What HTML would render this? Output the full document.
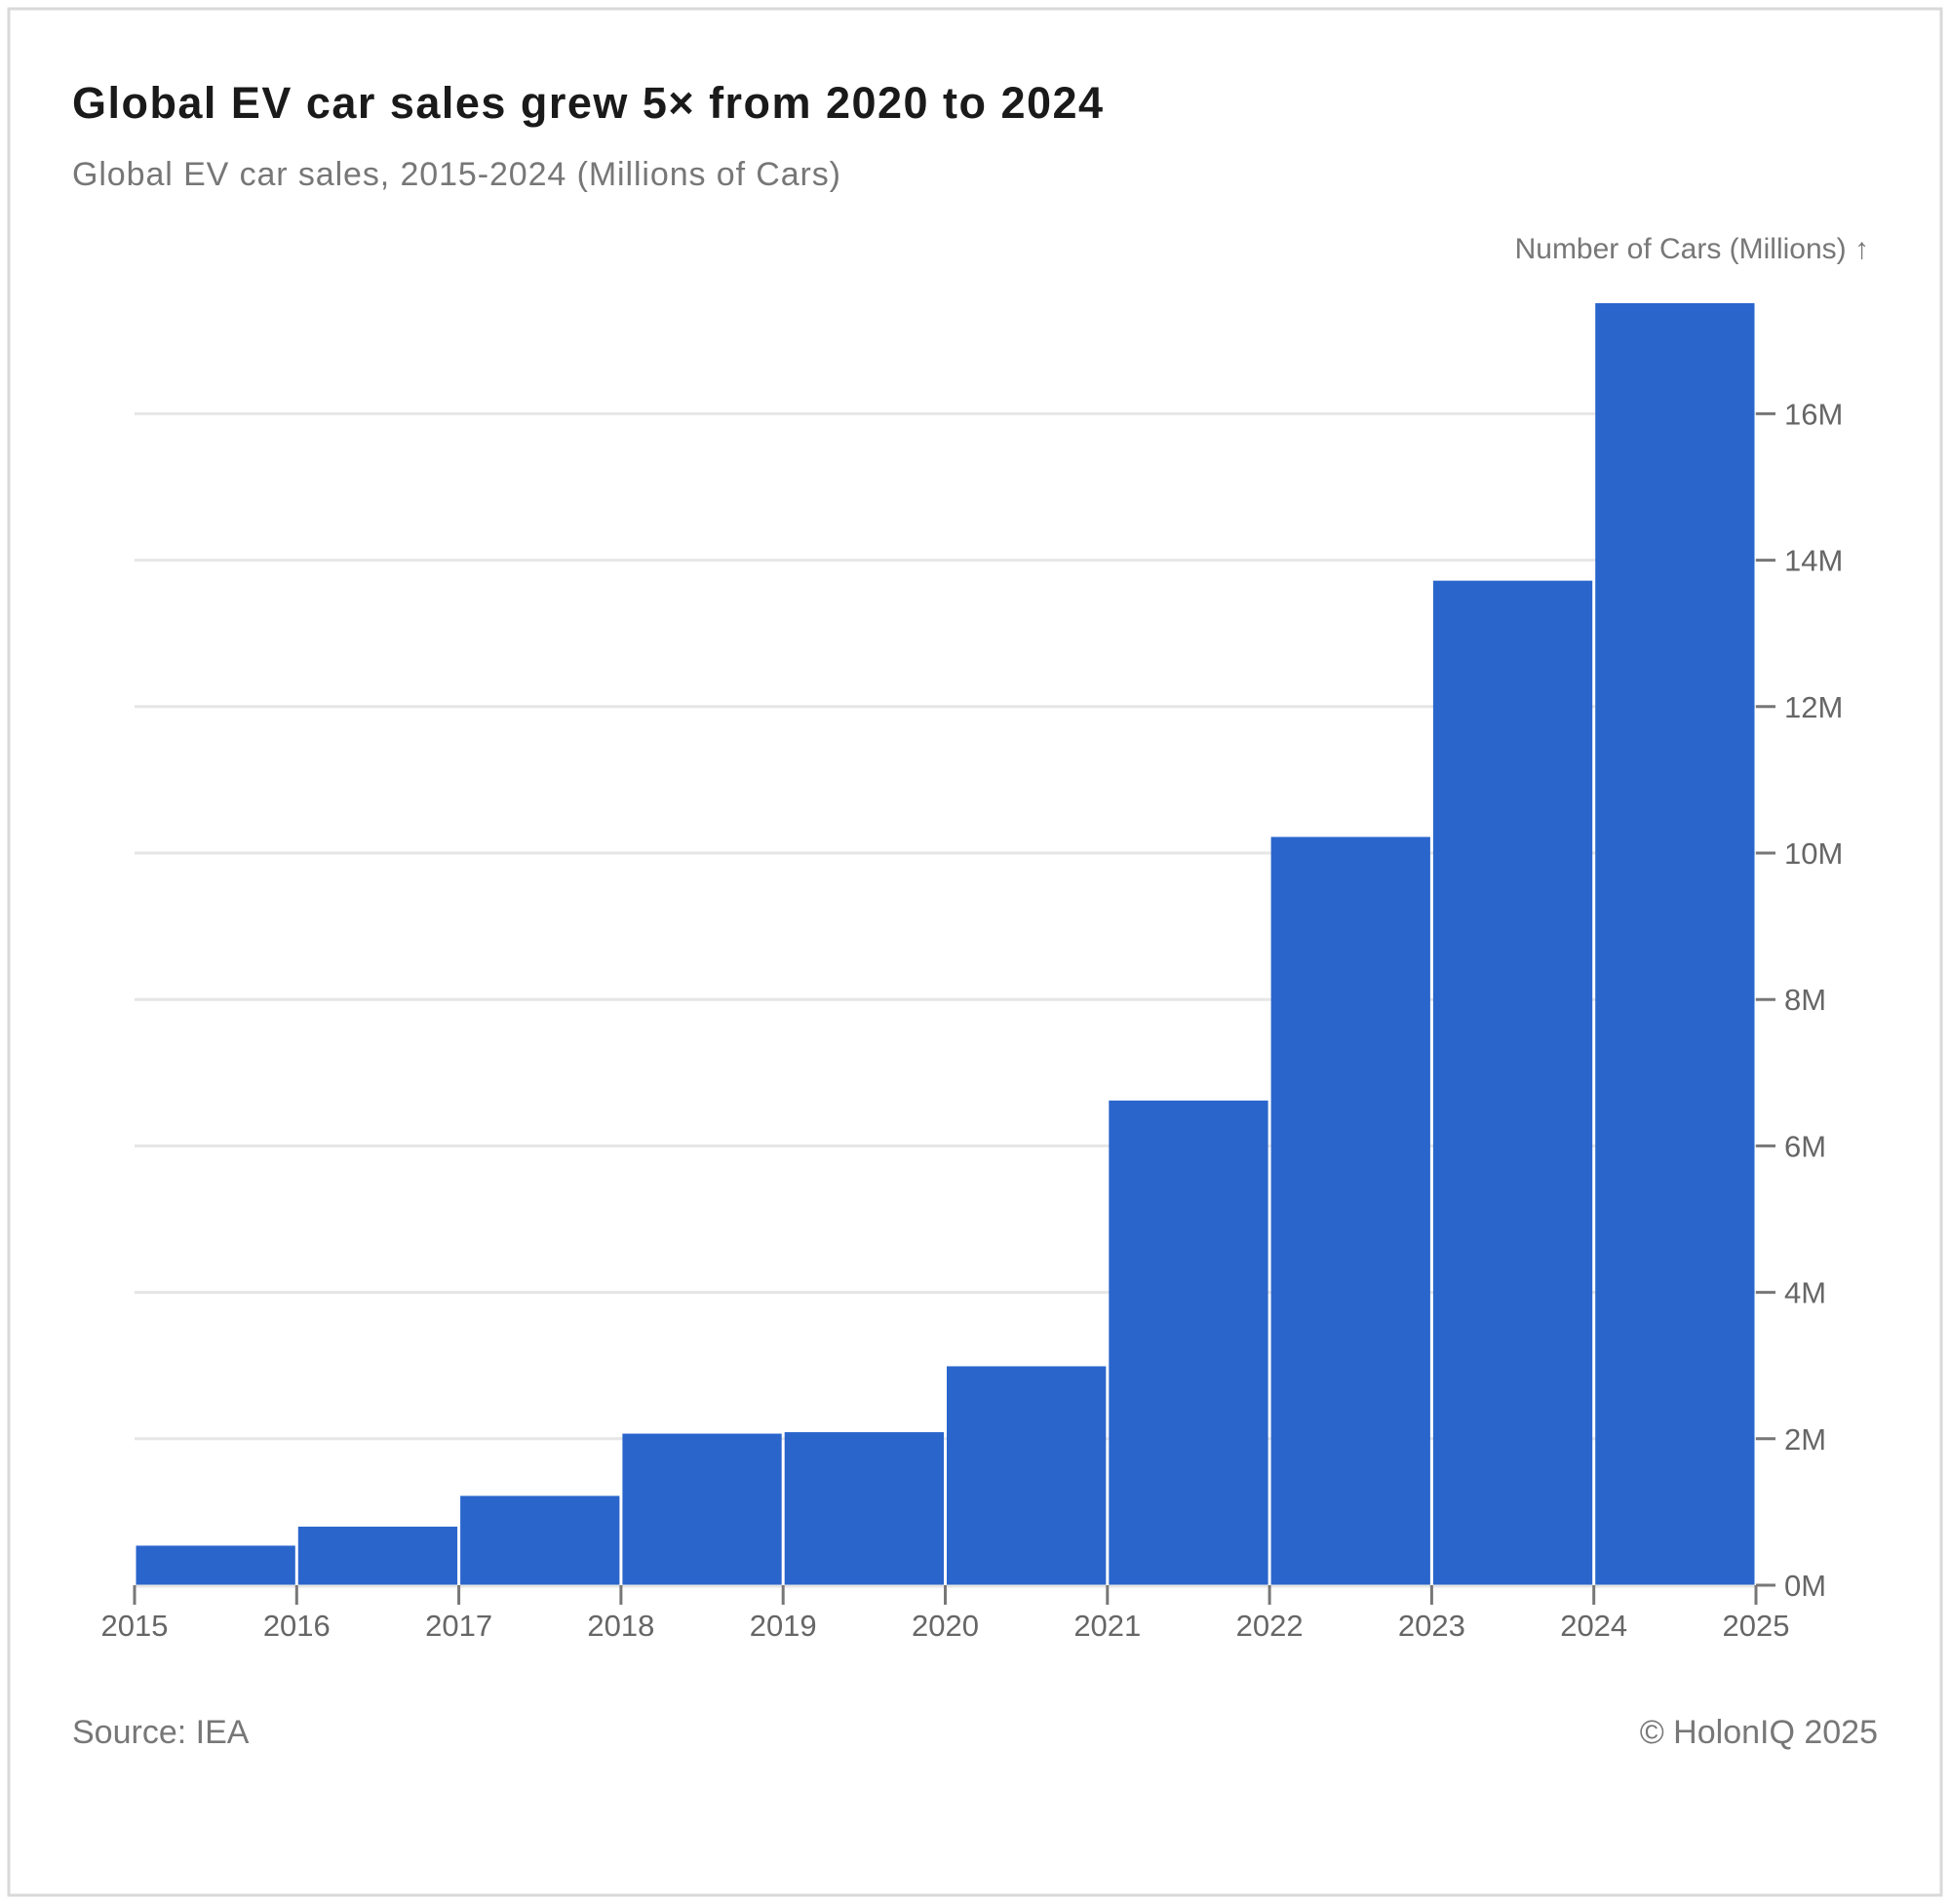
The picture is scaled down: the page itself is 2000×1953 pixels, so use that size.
<!DOCTYPE html>
<html><head><meta charset="utf-8"><style>
html,body{margin:0;padding:0;background:#fff;}
svg{display:block;font-family:"Liberation Sans",sans-serif;}
</style></head><body>
<svg id="chart" width="2000" height="1953" viewBox="0 0 2000 1953">
<rect x="9" y="9" width="1982" height="1935" fill="#fff" stroke="#d9d9d9" stroke-width="3"/>
<text x="74" y="121" font-size="45" font-weight="bold" fill="#1a1a1a" textLength="1057">Global EV car sales grew 5× from 2020 to 2024</text>
<text x="74" y="190" font-size="34" fill="#777" textLength="788">Global EV car sales, 2015-2024 (Millions of Cars)</text>
<text x="1917" y="265" font-size="30" fill="#777" text-anchor="end">Number of Cars (Millions) ↑</text>
<g id="grid"></g><g id="bars"></g><g id="axes"></g>
<text x="74" y="1788" font-size="34" fill="#777">Source: IEA</text>
<text x="1926" y="1788" font-size="34" fill="#777" text-anchor="end">© HolonIQ 2025</text>
</svg>
<script>
const years = [2015,2016,2017,2018,2019,2020,2021,2022,2023,2024];
const sales = [0.54,0.80,1.22,2.07,2.09,2.99,6.62,10.22,13.72,17.51];
const yTicks = [0,2,4,6,8,10,12,14,16];
const yTickLabels = ["0M","2M","4M","6M","8M","10M","12M","14M","16M"];
const xTickLabels = ["2015","2016","2017","2018","2019","2020","2021","2022","2023","2024","2025"];

const NS="http://www.w3.org/2000/svg";
const x0=138,x1=1801,yBase=1626,pxPerM=75.1;
const xs=v=>x0+(v-2015)*(x1-x0)/10;
const ys=v=>yBase-v*pxPerM;
function mk(tag,attrs,parent){const e=document.createElementNS(NS,tag);for(const k in attrs)e.setAttribute(k,attrs[k]);document.getElementById(parent).appendChild(e);return e;}

yTicks.forEach((t,i)=>{
  if(t>0){
    const g=mk('line',{x1:x0,x2:x1,y1:ys(t),y2:ys(t),stroke:'#e6e6e6','stroke-width':3},'grid');
    
    
  }
  const tk=mk('line',{x1:x1,x2:x1+20,y1:ys(t),y2:ys(t),stroke:'#777','stroke-width':3},'axes');
  
  
  const lb=mk('text',{x:x1+29,y:ys(t)+11,'font-size':31,fill:'#666'},'axes');
  lb.textContent=yTickLabels[i];
  
  
});
years.forEach((yr,i)=>{
  const r=mk('rect',{x:xs(yr)+1.5,y:ys(sales[i]),width:xs(yr+1)-xs(yr)-3,height:yBase-ys(sales[i]),fill:'#2a65cc'},'bars');
  
  
});
const base=mk('line',{x1:x0,x2:x1,y1:yBase+1,y2:yBase+1,stroke:'#e6e6e6','stroke-width':3},'axes');


xTickLabels.forEach((l,i)=>{
  const xv=xs(2015+i);
  const tk=mk('line',{x1:xv,x2:xv,y1:yBase,y2:yBase+20,stroke:'#777','stroke-width':3},'axes');
  
  
  const lb=mk('text',{x:xv,y:yBase+52,'font-size':31,fill:'#666','text-anchor':'middle'},'axes');
  lb.textContent=l;
  
  
});
</script>
</body></html>
